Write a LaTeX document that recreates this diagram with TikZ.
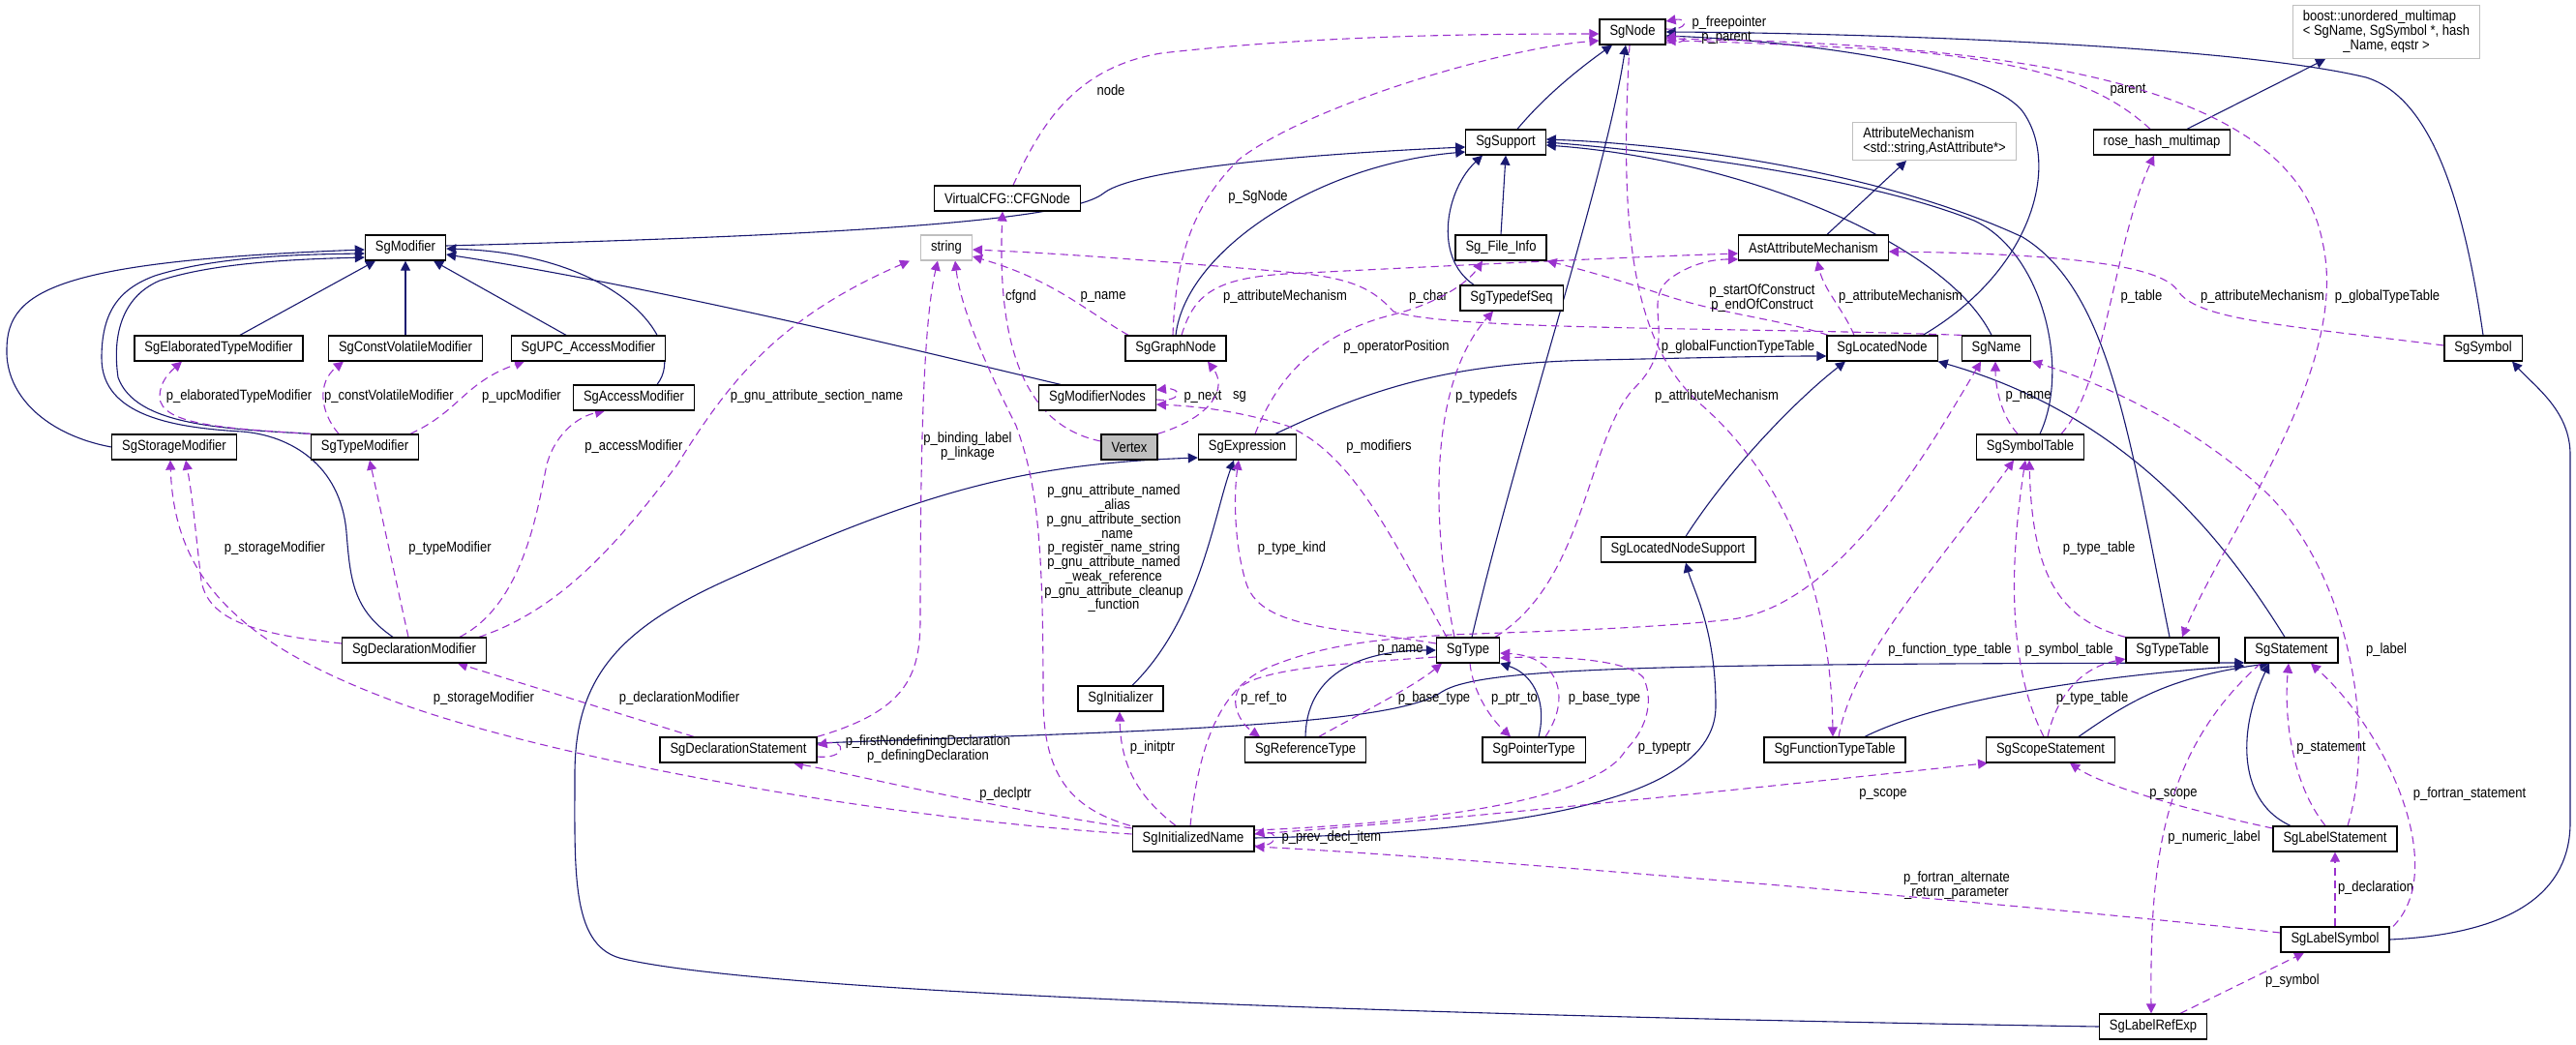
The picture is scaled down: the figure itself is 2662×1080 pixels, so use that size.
\documentclass[tikz,border=0pt]{standalone}
\usepackage{fontspec}
\setmainfont{Liberation Sans}[FakeStretch=0.87]
\usepackage{tikz}
\usetikzlibrary{arrows.meta}
\definecolor{dxblue}{RGB}{25,25,112}
\definecolor{dxpurple}{RGB}{154,50,205}
\definecolor{dxgrey}{RGB}{191,191,191}
\newcommand\dxfont{\fontsize{8.5}{8.4}\selectfont}
\newcommand\clsnode[3][]{%
  \node[clsbox,#1] (#2) {#3};
}
\pgfdeclarelayer{edgelayer}
\pgfsetlayers{edgelayer,main}

\begin{document}
\begin{tikzpicture}[x=0.2mm, y=-0.2mm,
>={Triangle[length=2mm,width=2mm]},
clsbox/.style={
  draw=black,
  fill=white,
  line width=0.25mm,
  minimum height=5.2mm,
  inner xsep=2.1mm,
  inner ysep=0.5mm,
  font=\dxfont,
  align=center},
greybox/.style={draw=dxgrey},
inh/.style={draw=dxblue, line width=0.22mm, ->},
dep/.style={draw=dxpurple, line width=0.22mm, dash pattern=on 1.6mm off 1mm, ->},
elabel/.style={font=\dxfont, inner sep=0pt, align=center, text=black}
]
\useasboundingbox (0,0) rectangle (2662,1080);

% top rows
\clsnode[at={(1687,33)}]{SgNode}{SgNode}
\clsnode[greybox,minimum height=11mm,at={(2466,33)}]{boostMultimap}{\begin{tabular}{@{}l@{}}boost::unordered\_multimap\\< SgName, SgSymbol *, hash\\\multicolumn{1}{@{}c@{}}{\_Name, eqstr >}\end{tabular}}
\clsnode[at={(1556,147)}]{SgSupport}{SgSupport}
\clsnode[greybox,align=left,minimum height=7.8mm,at={(1999,146)}]{AttributeMechanism}{AttributeMechanism\\<std::string,AstAttribute*>}
\clsnode[at={(2234,147)}]{roseHashMultimap}{rose\_hash\_multimap}
\clsnode[at={(1041,205)}]{CFGNode}{VirtualCFG::CFGNode}
\clsnode[at={(419,256)}]{SgModifier}{SgModifier}
\clsnode[greybox,at={(978,256)}]{stringNode}{string}
\clsnode[at={(1551,256)}]{SgFileInfo}{Sg\_File\_Info}
\clsnode[at={(1874,256)}]{AstAttributeMechanism}{AstAttributeMechanism}
\clsnode[at={(1562,308)}]{SgTypedefSeq}{SgTypedefSeq}
\clsnode[at={(226,360)}]{SgElaboratedTypeModifier}{SgElaboratedTypeModifier}
\clsnode[at={(419,360)}]{SgConstVolatileModifier}{SgConstVolatileModifier}
\clsnode[at={(608,360)}]{SgUPCAccessModifier}{SgUPC\_AccessModifier}
\clsnode[at={(1215,360)}]{SgGraphNode}{SgGraphNode}
\clsnode[at={(1945,360)}]{SgLocatedNode}{SgLocatedNode}
\clsnode[at={(2063,360)}]{SgName}{SgName}
\clsnode[at={(2566,360)}]{SgSymbol}{SgSymbol}
\clsnode[at={(655,411)}]{SgAccessModifier}{SgAccessModifier}
\clsnode[at={(1134,411)}]{SgModifierNodes}{SgModifierNodes}
% middle rows
\clsnode[at={(180,462)}]{SgStorageModifier}{SgStorageModifier}
\clsnode[at={(377,462)}]{SgTypeModifier}{SgTypeModifier}
\clsnode[fill=dxgrey,at={(1167,462)}]{Vertex}{Vertex}
\clsnode[at={(1289,462)}]{SgExpression}{SgExpression}
\clsnode[at={(2098,462)}]{SgSymbolTable}{SgSymbolTable}
\clsnode[at={(1734,568)}]{SgLocatedNodeSupport}{SgLocatedNodeSupport}
\clsnode[at={(428,672)}]{SgDeclarationModifier}{SgDeclarationModifier}
\clsnode[at={(1517,672)}]{SgType}{SgType}
\clsnode[at={(2245,672)}]{SgTypeTable}{SgTypeTable}
\clsnode[at={(2368,672)}]{SgStatement}{SgStatement}
% bottom rows
\clsnode[at={(1158,722)}]{SgInitializer}{SgInitializer}
\clsnode[at={(763,775)}]{SgDeclarationStatement}{SgDeclarationStatement}
\clsnode[at={(1349,775)}]{SgReferenceType}{SgReferenceType}
\clsnode[at={(1585,775)}]{SgPointerType}{SgPointerType}
\clsnode[at={(1896,775)}]{SgFunctionTypeTable}{SgFunctionTypeTable}
\clsnode[at={(2119,775)}]{SgScopeStatement}{SgScopeStatement}
\clsnode[at={(1233,867)}]{SgInitializedName}{SgInitializedName}
\clsnode[at={(2413,867)}]{SgLabelStatement}{SgLabelStatement}
\clsnode[at={(2413,971)}]{SgLabelSymbol}{SgLabelSymbol}
\clsnode[at={(2225,1061)}]{SgLabelRefExp}{SgLabelRefExp}

\begin{pgfonlayer}{edgelayer}
% inheritance
\draw[inh] (248,0 |- SgElaboratedTypeModifier.north) -- (388,0 |- SgModifier.south);
\draw[inh] (SgConstVolatileModifier) -- (SgModifier);
\draw[inh] (585,0 |- SgUPCAccessModifier.north) -- (448,0 |- SgModifier.south);
\draw[inh] (679,0 |- SgAccessModifier.north) .. controls (712,355) and (640,262) .. (SgModifier.east |- 0,257);
\draw[inh] (SgStorageModifier.west) .. controls (50,450) and (5,410) .. (7,360) .. controls (8,300) and (60,270) .. (SgModifier.west |- 0,258);
\draw[inh] (SgTypeModifier.north west) .. controls (230,443) and (140,440) .. (122,390) .. controls (115,340) and (130,305) .. (165,290) .. controls (220,272) and (300,268) .. (SgModifier.west |- 0,266);
\draw[inh] (406,0 |- SgDeclarationModifier.north) .. controls (365,630) and (362,600) .. (358,550) .. controls (352,480) and (300,450) .. (250,446) .. controls (180,442) and (105,430) .. (105,370) .. controls (105,320) and (125,298) .. (160,285) .. controls (220,266) and (300,263) .. (SgModifier.west |- 0,262);
\draw[inh] (1096,0 |- SgModifierNodes.north) .. controls (1000,375) and (700,300) .. (SgModifier.east |- 0,263);
\draw[inh] (SgModifier.east |- 0,254) .. controls (800,245) and (1100,232) .. (1140,200) .. controls (1175,172) and (1380,158) .. (SgSupport.west |- 0,152);
\draw[inh] (1568,0 |- SgSupport.north) .. controls (1600,95) and (1640,65) .. (1666,0 |- SgNode.south);
\draw[inh] (1521,0 |- SgType.north) .. controls (1570,450) and (1660,180) .. (1680,0 |- SgNode.south);
\draw[inh] (1987,0 |- SgLocatedNode.north) .. controls (2100,280) and (2130,170) .. (2090,115) .. controls (2050,65) and (1850,42) .. (SgNode.east |- 0,37);
\draw[inh] (SgSymbol.north) .. controls (2545,200) and (2510,100) .. (2445,80) .. controls (2300,45) and (1900,34) .. (SgNode.east |- 0,33);
\draw[inh] (1215,0 |- SgGraphNode.north) .. controls (1225,260) and (1360,170) .. (SgSupport.west |- 0,157);
\draw[inh] (SgFileInfo.north) -- (SgSupport.south);
\draw[inh] (1523,0 |- SgTypedefSeq.north) .. controls (1480,265) and (1495,195) .. (1532,0 |- SgSupport.south);
\draw[inh] (2058,0 |- SgName.north) .. controls (2010,250) and (1800,165) .. (SgSupport.east |- 0,150);
\draw[inh] (2108,0 |- SgSymbolTable.north) .. controls (2140,380) and (2110,260) .. (2040,228) .. controls (1920,180) and (1700,155) .. (SgSupport.east |- 0,147);
\draw[inh] (2242,0 |- SgTypeTable.north) .. controls (2200,450) and (2180,300) .. (2090,245) .. controls (1950,180) and (1750,150) .. (SgSupport.east |- 0,144);
\draw[inh] (2361,0 |- SgStatement.north) .. controls (2300,560) and (2200,430) .. (SgLocatedNode.south east);
\draw[inh] (1318,0 |- SgExpression.north) .. controls (1420,400) and (1500,375) .. (1650,372) .. controls (1750,370) and (1820,368) .. (SgLocatedNode.west |- 0,368);
\draw[inh] (1742,0 |- SgLocatedNodeSupport.north) .. controls (1790,480) and (1860,410) .. (1907,0 |- SgLocatedNode.south);
\draw[inh] (SgInitializedName.east |- 0,866) .. controls (1600,860) and (1773,820) .. (1773,730) .. controls (1773,650) and (1750,610) .. (1742,0 |- SgLocatedNodeSupport.south);
\draw[inh] (1170,0 |- SgInitializer.north) .. controls (1240,640) and (1255,530) .. (1275,0 |- SgExpression.south);
\draw[inh] (SgLabelRefExp.west) .. controls (1600,1052) and (800,1030) .. (640,990) .. controls (590,975) and (594,900) .. (594,800) .. controls (594,700) and (640,650) .. (750,600) .. controls (950,510) and (1050,480) .. (SgExpression.west |- 0,473);
\draw[inh] (1349,0 |- SgReferenceType.north) .. controls (1350,700) and (1400,672) .. (SgType.west |- 0,672);
\draw[inh] (1590,0 |- SgPointerType.north) .. controls (1600,720) and (1580,695) .. (SgType.south east);
\draw[inh] (SgDeclarationStatement.east |- 0,768) .. controls (1200,755) and (1440,750) .. (1490,715) .. controls (1530,690) and (1700,686) .. (SgStatement.west |- 0,685);
\draw[inh] (1927,0 |- SgFunctionTypeTable.north) .. controls (2000,725) and (2150,700) .. (SgStatement.west |- 0,688);
\draw[inh] (2148,0 |- SgScopeStatement.north) .. controls (2200,725) and (2240,700) .. (2345,0 |- SgStatement.south);
\draw[inh] (2367,0 |- SgLabelStatement.north) .. controls (2315,830) and (2310,760) .. (2345,0 |- SgStatement.south);
\draw[inh] (SgLabelSymbol.east) .. controls (2600,965) and (2656,920) .. (2656,850) -- (2656,470) .. controls (2656,425) and (2620,400) .. (2596,0 |- SgSymbol.south);
\draw[inh] (1888,0 |- AstAttributeMechanism.north) -- (1970,0 |- AttributeMechanism.south);
\draw[inh] (2260,0 |- roseHashMultimap.north) -- (2403,0 |- boostMultimap.south);

% members
\draw[dep] (1047,0 |- CFGNode.north) .. controls (1075,130) and (1110,70) .. (1200,55) .. controls (1350,38) and (1500,35) .. (SgNode.west |- 0,35) node[elabel] (lnode) at (1148,93) {node};
\draw[dep] (SgNode.east |- 0,30) .. controls (1745,32) and (1745,18) .. (SgNode.east |- 0,22) node[elabel] (lfree) at (1787,24) {p\_freepointer};
\draw[dep] (SgNode.east |- 0,44) .. controls (1745,46) and (1745,36) .. (SgNode.east |- 0,39) node[elabel] (lpar) at (1784,39) {p\_parent};
\draw[dep] (2222,0 |- roseHashMultimap.north) .. controls (2180,95) and (2120,65) .. (1960,52) .. controls (1850,46) and (1780,43) .. (SgNode.east |- 0,42) node[elabel] (lparent) at (2199,93) {parent};
\draw[dep] (1212,0 |- SgGraphNode.north) .. controls (1215,260) and (1235,210) .. (1280,165) .. controls (1350,110) and (1550,50) .. (SgNode.west |- 0,42) node[elabel] (lsgnode) at (1300,204) {p\_SgNode};
\draw[dep] (Vertex.west |- 0,456) .. controls (1060,440) and (1030,360) .. (1036,0 |- CFGNode.south) node[elabel] (lcfgnd) at (1055,307) {cfgnd};
\draw[dep] (1166,0 |- SgGraphNode.north) .. controls (1120,320) and (1090,290) .. (stringNode.east |- 0,265) node[elabel] (lgname) at (1140,307) {p\_name};
\draw[dep] (1221,0 |- SgGraphNode.north) .. controls (1235,300) and (1260,285) .. (1350,282) .. controls (1550,272) and (1700,265) .. (AstAttributeMechanism.west |- 0,262) node[elabel] (lgattr) at (1328,307) {p\_attributeMechanism};
\draw[dep] (2027,0 |- SgName.north) .. controls (1800,338) and (1500,342) .. (1440,322) .. controls (1420,300) and (1400,288) .. (1340,282) .. controls (1200,270) and (1100,262) .. (stringNode.east |- 0,258) node[elabel] (lchar) at (1476,307) {p\_char};
\draw[dep] (1297,0 |- SgExpression.north) .. controls (1320,390) and (1360,345) .. (1440,325) .. controls (1480,315) and (1515,295) .. (1532,0 |- SgFileInfo.south) node[elabel] (lopos) at (1443,359) {p\_operatorPosition};
\draw[dep] (1889,0 |- SgLocatedNode.north) .. controls (1840,330) and (1780,325) .. (1720,305) .. controls (1660,285) and (1620,275) .. (SgFileInfo.south east) node[elabel] (lconstr) at (1821,308) {p\_startOfConstruct\\p\_endOfConstruct};
\draw[dep] (1916,0 |- SgLocatedNode.north) .. controls (1905,320) and (1885,300) .. (1878,0 |- AstAttributeMechanism.south) node[elabel] (llattr) at (1964,307) {p\_attributeMechanism};
\draw[dep] (SgSymbol.west |- 0,357) .. controls (2350,335) and (2270,330) .. (2250,300) .. controls (2230,270) and (2100,262) .. (AstAttributeMechanism.east |- 0,260) node[elabel] (lsattr) at (2338,307) {p\_attributeMechanism};
\draw[dep] (SgNode.east |- 0,40) .. controls (2100,45) and (2370,90) .. (2400,250) .. controls (2430,380) and (2300,550) .. (2255,0 |- SgTypeTable.north) node[elabel] (lgtt) at (2467,307) {p\_globalTypeTable};
\draw[dep] (2130,0 |- SgSymbolTable.north) .. controls (2175,400) and (2185,250) .. (2226,0 |- roseHashMultimap.south) node[elabel] (ltable) at (2213,307) {p\_table};
\draw[dep] (1684,0 |- SgNode.south) .. controls (1672,250) and (1690,360) .. (1760,420) .. controls (1850,500) and (1892,620) .. (1894,0 |- SgFunctionTypeTable.north) node[elabel] (lgftt) at (1796,359) {p\_globalFunctionTypeTable};
\draw[dep] (1503,0 |- SgType.north) .. controls (1475,520) and (1482,390) .. (1543,0 |- SgTypedefSeq.south) node[elabel] (ltdefs) at (1536,410) {p\_typedefs};
\draw[dep] (1495,0 |- SgType.north) .. controls (1440,560) and (1400,470) .. (1330,440) .. controls (1280,425) and (1240,420) .. (SgModifierNodes.east |- 0,418) node[elabel] (lmods) at (1425,462) {p\_modifiers};
\draw[dep] (SgModifierNodes.east |- 0,413) .. controls (1222,416) and (1222,400) .. (SgModifierNodes.east |- 0,403) node[elabel] (lnext) at (1243,410) {p\_next};
\draw[dep] (Vertex.north east) .. controls (1255,430) and (1268,400) .. (1248,0 |- SgGraphNode.south) node[elabel] (lsg) at (1281,410) {sg};
\draw[dep] (SgType.west |- 0,665) .. controls (1380,648) and (1300,650) .. (1287,600) .. controls (1275,560) and (1275,510) .. (1280,0 |- SgExpression.south) node[elabel] (lkind) at (1335,567) {p\_type\_kind};
\draw[dep] (1230,0 |- SgInitializedName.north) .. controls (1240,760) and (1265,710) .. (1310,690) .. controls (1370,665) and (1430,660) .. (1500,656) .. controls (1600,652) and (1700,650) .. (1790,640) .. controls (1900,625) and (1990,470) .. (2047,0 |- SgName.south) node[elabel] (liname) at (1447,672) {p\_name};
\draw[dep] (SgType.west |- 0,679) .. controls (1400,685) and (1300,690) .. (1280,712) .. controls (1270,730) and (1285,750) .. (1302,0 |- SgReferenceType.north) node[elabel] (lrefto) at (1306,722) {p\_ref\_to};
\draw[dep] (1363,0 |- SgReferenceType.north) .. controls (1410,735) and (1460,710) .. (1490,0 |- SgType.south) node[elabel] (lbase) at (1482,722) {p\_base\_type};
\draw[dep] (1519,0 |- SgType.south) .. controls (1522,715) and (1540,742) .. (1561,0 |- SgPointerType.north) node[elabel] (lptrto) at (1565,722) {p\_ptr\_to};
\draw[dep] (1597,0 |- SgPointerType.north) .. controls (1625,720) and (1610,678) .. (SgType.east |- 0,675) node[elabel] (lbaseb) at (1658,722) {p\_base\_type};
\draw[dep] (SgInitializedName.east |- 0,858) .. controls (1450,852) and (1650,830) .. (1680,775) .. controls (1705,750) and (1708,720) .. (1698,700) .. controls (1680,680) and (1600,678) .. (SgType.east |- 0,680) node[elabel] (ltptr) at (1720,773) {p\_typeptr};
\draw[dep] (SgInitializedName.east |- 0,862) .. controls (1500,848) and (1900,805) .. (2054,0 |- SgScopeStatement.south) node[elabel] (lscope) at (1946,821) {p\_scope};
\draw[dep] (SgInitializedName.west |- 0,856) .. controls (1000,830) and (880,800) .. (820,0 |- SgDeclarationStatement.south) node[elabel] (ldeclptr) at (1039,821) {p\_declptr};
\draw[dep] (SgInitializedName.west |- 0,862) .. controls (900,845) and (550,780) .. (400,722) .. controls (250,665) and (180,600) .. (176,0 |- SgStorageModifier.south) node[elabel] (lstorb) at (500,722) {p\_storageModifier};
\draw[dep] (SgDeclarationModifier.west |- 0,665) .. controls (260,655) and (215,640) .. (208,600) .. controls (203,560) and (200,520) .. (192,0 |- SgStorageModifier.south) node[elabel] (lstor) at (284,567) {p\_storageModifier};
\draw[dep] (422,0 |- SgDeclarationModifier.north) -- (382,0 |- SgTypeModifier.south) node[elabel] (ltmod) at (465,567) {p\_typeModifier};
\draw[dep] (475,0 |- SgDeclarationModifier.north) .. controls (540,625) and (555,530) .. (565,480) .. controls (575,445) and (600,430) .. (625,0 |- SgAccessModifier.south) node[elabel] (lacc) at (655,462) {p\_accessModifier};
\draw[dep] (495,0 |- SgDeclarationModifier.north) .. controls (580,630) and (640,560) .. (700,480) .. controls (750,400) and (800,330) .. (940,0 |- stringNode.south) node[elabel] (lsect) at (844,410) {p\_gnu\_attribute\_section\_name};
\draw[dep] (SgTypeModifier.north west) .. controls (240,443) and (165,440) .. (165,410) .. controls (165,395) and (175,385) .. (188,0 |- SgElaboratedTypeModifier.south) node[elabel] (lelab) at (247,410) {p\_elaboratedTypeModifier};
\draw[dep] (350,0 |- SgTypeModifier.north) .. controls (330,425) and (328,395) .. (355,0 |- SgConstVolatileModifier.south) node[elabel] (lcv) at (402,410) {p\_constVolatileModifier};
\draw[dep] (424,0 |- SgTypeModifier.north) .. controls (475,425) and (480,395) .. (542,0 |- SgUPCAccessModifier.south) node[elabel] (lupc) at (539,410) {p\_upcModifier};
\draw[dep] (717,0 |- SgDeclarationStatement.north) -- (473,0 |- SgDeclarationModifier.south) node[elabel] (ldmod) at (702,722) {p\_declarationModifier};
\draw[dep] (SgDeclarationStatement.north east) .. controls (935,735) and (951,700) .. (951,640) .. controls (951,450) and (955,330) .. (969,0 |- stringNode.south) node[elabel] (lbind) at (1000,461) {p\_binding\_label\\p\_linkage};
\draw[dep] (SgDeclarationStatement.east |- 0,782) .. controls (875,785) and (875,764) .. (SgDeclarationStatement.east |- 0,770) node[elabel] (ldefs) at (959,774) {p\_firstNondefiningDeclaration\\p\_definingDeclaration};
\draw[dep] (1168,0 |- SgInitializedName.north) .. controls (1105,835) and (1078,800) .. (1078,720) .. controls (1078,560) and (1072,500) .. (1050,440) .. controls (1020,380) and (993,320) .. (987,0 |- stringNode.south) node[elabel] (lgnu) at (1151,567) {p\_gnu\_attribute\_named\\\_alias\\p\_gnu\_attribute\_section\\\_name\\p\_register\_name\_string\\p\_gnu\_attribute\_named\\\_weak\_reference\\p\_gnu\_attribute\_cleanup\\\_function};
\draw[dep] (1215,0 |- SgInitializedName.north) .. controls (1185,830) and (1158,800) .. (1157,0 |- SgInitializer.south) node[elabel] (linit) at (1191,773) {p\_initptr};
\draw[dep] (SgInitializedName.east |- 0,874) .. controls (1322,876) and (1322,858) .. (SgInitializedName.east |- 0,862) node[elabel] (lprev) at (1376,866) {p\_prev\_decl\_item};
\draw[dep] (SgLabelSymbol.west |- 0,964) .. controls (2100,935) and (1500,885) .. (SgInitializedName.east |- 0,875) node[elabel] (lfalt) at (2022,915) {p\_fortran\_alternate\\\_return\_parameter};
\draw[dep] (2085,0 |- SgSymbolTable.north) .. controls (2068,430) and (2062,400) .. (2062,0 |- SgName.south) node[elabel] (lsname) at (2096,410) {p\_name};
\draw[dep] (1900,0 |- SgFunctionTypeTable.north) .. controls (1915,680) and (1990,600) .. (2081,0 |- SgSymbolTable.south) node[elabel] (lftt) at (2015,672) {p\_function\_type\_table};
\draw[dep] (2112,0 |- SgScopeStatement.north) .. controls (2070,680) and (2080,560) .. (2093,0 |- SgSymbolTable.south) node[elabel] (lsymt) at (2138,672) {p\_symbol\_table};
\draw[dep] (SgTypeTable.north west) .. controls (2125,640) and (2100,590) .. (2097,0 |- SgSymbolTable.south) node[elabel] (ltt) at (2169,567) {p\_type\_table};
\draw[dep] (2116,0 |- SgScopeStatement.north) .. controls (2125,720) and (2150,690) .. (SgTypeTable.west |- 0,681) node[elabel] (lttb) at (2162,722) {p\_type\_table};
\draw[dep] (2426,0 |- SgLabelStatement.north) .. controls (2455,760) and (2430,600) .. (2345,512) .. controls (2270,440) and (2170,395) .. (2100,0 |- SgName.south) node[elabel] (llabel) at (2466,672) {p\_label};
\draw[dep] (2336,0 |- SgStatement.south) .. controls (2230,780) and (2222,900) .. (2223,0 |- SgLabelRefExp.north) node[elabel] (lnum) at (2288,866) {p\_numeric\_label};
\draw[dep] (SgLabelStatement.west |- 0,856) .. controls (2250,835) and (2170,810) .. (2139,0 |- SgScopeStatement.south) node[elabel] (lscopeb) at (2246,821) {p\_scope};
\draw[dep] (SgLabelSymbol.north) -- (SgLabelStatement.south) node[elabel] (ldecl) at (2455,918) {p\_declaration};
\draw[dep] (2473,0 |- SgLabelSymbol.north) .. controls (2530,900) and (2470,760) .. (2388,0 |- SgStatement.south) node[elabel] (lfstmt) at (2552,821) {p\_fortran\_statement};
\draw[dep] (2253,0 |- SgLabelRefExp.north) -- (2381,0 |- SgLabelSymbol.south) node[elabel] (lsym) at (2369,1014) {p\_symbol};
\draw[dep] (2403,0 |- SgLabelStatement.north) .. controls (2368,810) and (2360,740) .. (2365,0 |- SgStatement.south) node[elabel] (lstmt) at (2409,773) {p\_statement};
\draw[dep] (1545,0 |- SgType.north) .. controls (1640,600) and (1640,450) .. (1690,400) .. controls (1740,350) and (1690,310) .. (1730,285) .. controls (1750,272) and (1770,268) .. (AstAttributeMechanism.west |- 0,268) node[elabel] (ltattr) at (1774,410) {p\_attributeMechanism};
\end{pgfonlayer}

\end{tikzpicture}
\end{document}
